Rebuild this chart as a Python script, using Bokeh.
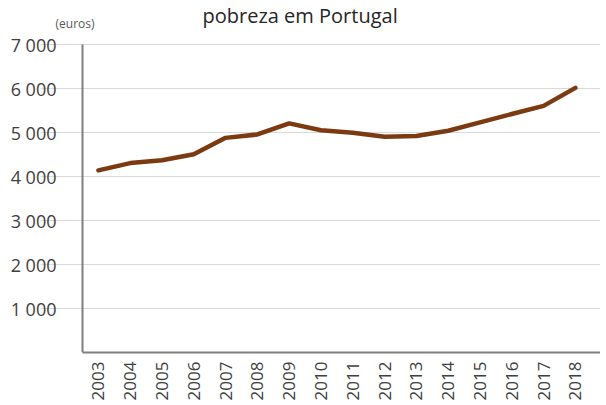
import math
from bokeh.plotting import figure
from bokeh.models import FixedTicker, Range1d, Label
from bokeh.embed import file_html
from bokeh.resources import INLINE

years = list(range(2003, 2019))
values = [4140, 4305, 4370, 4505, 4878, 4955, 5207, 5050, 4995, 4905, 4920, 5040, 5230, 5420, 5605, 6014]
y_ticks = [1000, 2000, 3000, 4000, 5000, 6000, 7000]
y_tick_labels = {t: f"{t:,}".replace(",", " ") for t in y_ticks}
title_text = "pobreza em Portugal"
unit_text = "(euros)"

FONT = "Open Sans"

# geometry (pixels)
W, H = 600, 403
left_border = 40          # frame starts here; the drawn y axis sits further right
axis_in = 42              # distance of the drawn y axis from the frame's left edge
bottom_border = 51
px_per_year = 31.8

x_axis = years[0] - 0.5
x_start = x_axis - axis_in / px_per_year
x_end = x_start + (W - left_border) / px_per_year
y_top = 8000

p = figure(width=W, height=H, output_backend="svg", toolbar_location=None,
           x_range=Range1d(x_start, x_end), y_range=Range1d(0, y_top),
           min_border_left=left_border, min_border_right=0,
           min_border_bottom=bottom_border, min_border_top=0)

p.outline_line_color = None
p.background_fill_color = "white"

# gridlines from the axis to the right edge
p.xgrid.grid_line_color = None
p.ygrid.ticker = FixedTicker(ticks=y_ticks)
p.ygrid.bounds = (x_axis, x_end)
p.ygrid.grid_line_color = "#d9d9d9"
p.ygrid.grid_line_width = 1

# vertical axis line (0 .. top tick)
p.segment(x0=[x_axis], y0=[0], x1=[x_axis], y1=[y_ticks[-1]], line_color="#7f7f7f", line_width=2)

p.line(years, values, line_color="#7b3a10", line_width=4.5, line_join="round", line_cap="round")

p.yaxis.ticker = FixedTicker(ticks=y_ticks)
p.yaxis.major_label_overrides = y_tick_labels
p.yaxis.axis_line_color = None
p.yaxis.major_tick_line_color = None
p.yaxis.minor_tick_line_color = None
p.yaxis.major_label_standoff = -22
p.yaxis.major_label_text_font = FONT
p.yaxis.major_label_text_font_size = "18px"
p.yaxis.major_label_text_color = "#404040"

p.xaxis.ticker = FixedTicker(ticks=years)
p.xaxis.bounds = (x_axis, x_end)
p.xaxis.major_label_orientation = math.pi / 2
p.xaxis.major_tick_line_color = None
p.xaxis.minor_tick_line_color = None
p.xaxis.axis_line_color = "#7f7f7f"
p.xaxis.axis_line_width = 2
p.xaxis.major_label_standoff = 3
p.xaxis.major_label_text_font = FONT
p.xaxis.major_label_text_font_size = "17px"
p.xaxis.major_label_text_color = "#404040"

p.add_layout(Label(x=x_axis, y=y_top, x_offset=120, y_offset=-1, text=title_text,
                   text_align="left", text_baseline="top", text_font=FONT,
                   text_font_size="20px", text_color="#262626"))
p.add_layout(Label(x=x_axis, y=y_top, x_offset=-27, y_offset=-14, text=unit_text,
                   text_align="left", text_baseline="top", text_font=FONT,
                   text_font_size="12px", text_color="#595959"))

open("out.html", "w").write(file_html(p, INLINE))
